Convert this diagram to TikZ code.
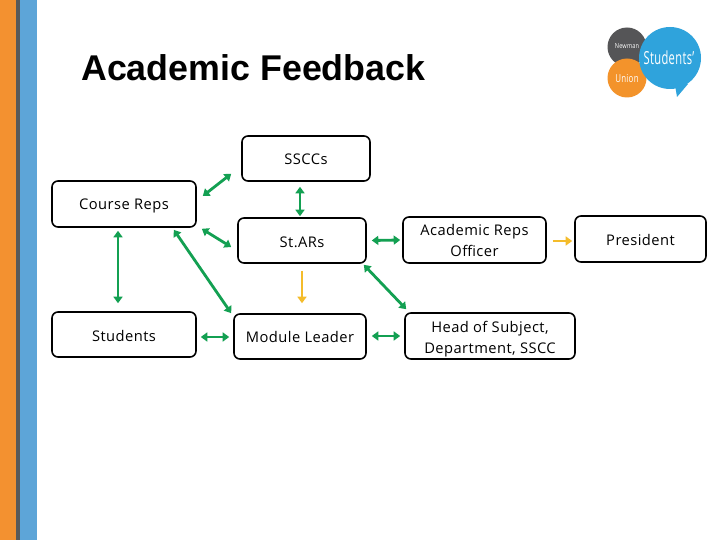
\documentclass[tikz,border=0pt]{standalone}
\usepackage{fontspec}
\setmainfont[LetterSpace=3]{Open Sans}
\newfontfamily\titlefont{Liberation Sans}
\usetikzlibrary{arrows.meta}
\definecolor{gr}{HTML}{13A052}
\definecolor{ye}{HTML}{F4BC2B}
\definecolor{orbar}{HTML}{F39130}
\definecolor{blbar}{HTML}{5DA5D8}
\definecolor{gybar}{HTML}{595959}
\definecolor{lgblue}{HTML}{2FA3DC}
\definecolor{lgor}{HTML}{F3932B}
\definecolor{lggr}{HTML}{555557}
\tikzset{
 box/.style={draw=black,line width=1.6pt,rounded corners=6pt,fill=white,align=center,font=\fontsize{14.7}{21}\selectfont,inner sep=0pt},
 twoway/.style={draw=gr,line width=2.8pt,{Triangle[length=6.5pt,width=9pt]}-{Triangle[length=6.5pt,width=9pt]}},
 oneway/.style={draw=ye,line width=2.8pt,-{Triangle[length=6.5pt,width=9pt]}},
 logotext/.style={text=white,inner sep=0pt}
}
\newcommand{\tl}[2]{\raisebox{-#1pt}[0pt][0pt]{#2}}
\begin{document}
\begin{tikzpicture}[x=1pt,y=-1pt]
\useasboundingbox (0,0) rectangle (720,540);
\fill[white] (0,0) rectangle (720,540);
\fill[orbar] (0,0) rectangle (16,540);
\fill[gybar] (16,0) rectangle (20,540);
\fill[blbar] (20,0) rectangle (37,540);
\node[anchor=base west,inner sep=0pt,font=\titlefont\bfseries\fontsize{35.8}{40}\selectfont] (title) at (81,80.5) {Academic Feedback};
% logo
\fill[lggr] (627,47) circle (19.5);
\fill[lgor] (627,78) circle (19.5);
\fill[lgblue] (670,58) circle (31);
\fill[lgblue] (675,85) -- (677,97) -- (688,84) -- cycle;
\node[logotext,font=\fontsize{7}{7}\selectfont,xscale=.8] (lg1) at (627,46) {Newman};
\node[logotext,font=\fontsize{18}{18}\selectfont,xscale=.62] (lg2) at (669,58) {Students'};
\node[logotext,font=\fontsize{11}{11}\selectfont,xscale=.72] (lg3) at (627,79) {Union};
% boxes
\node[box,minimum width=128pt,minimum height=45pt] (ssccs) at (306,158.5) {\tl{6}{SSCCs}};
\node[box,minimum width=144pt,minimum height=46pt] (creps) at (124,204) {\tl{6}{Course Reps}};
\node[box,minimum width=128pt,minimum height=45pt] (stars) at (302,240.5) {\tl{6.5}{St.ARs}};
\node[box,minimum width=144pt,minimum height=45pt] (stud) at (124,334.5) {\tl{6.5}{Students}};
\node[box,minimum width=132pt,minimum height=45pt] (ml) at (300,336.5) {\tl{5.5}{Module Leader}};
\node[box,minimum width=143pt,minimum height=46pt] (aro) at (474.5,240) {\tl{6.2}{Academic Reps}\\\tl{6.2}{Officer}};
\node[box,minimum width=131pt,minimum height=46pt] (pres) at (640.5,239) {\tl{6.5}{President}};
\node[box,minimum width=170pt,minimum height=46pt] (head) at (490,336) {\tl{6.8}{Head of Subject,}\\\tl{6.8}{Department, SSCC}};
% connectors (ends stop short of the boxes)
\draw[twoway] ([xshift=6pt,yshift=8pt]creps.east) -- ([xshift=-10pt,yshift=8pt]ssccs.south west);
\draw[twoway] ([xshift=-6pt,yshift=-5pt]ssccs.south) -- ([xshift=-2pt,yshift=1pt]stars.north);
\draw[twoway] ([xshift=5pt,yshift=-1pt]creps.south east) -- ([xshift=-6pt,yshift=-6.5pt]stars.west);
\draw[twoway] ([xshift=-6pt,yshift=-3pt]creps.south) -- ([xshift=-6pt,yshift=8pt]stud.north);
\draw[twoway] ([xshift=-23pt,yshift=-2pt]creps.south east) -- ([xshift=-2pt]ml.north west);
\draw[oneway] ([yshift=-7pt]stars.south) -- ([yshift=10pt,xshift=2pt]ml.north);
\draw[twoway] ([xshift=4pt,yshift=-2.5pt]stud.east) -- ([xshift=-4pt,yshift=-.5pt]ml.west);
\draw[twoway] ([xshift=5pt]stars.east) -- ([xshift=-2pt]aro.west);
\draw[twoway] ([xshift=5pt,yshift=.5pt]ml.east) -- ([xshift=-4pt]head.west);
\draw[twoway] ([xshift=-3pt,yshift=-1pt]stars.south east) -- ([xshift=2pt,yshift=3pt]head.north west);
\draw[oneway] ([xshift=6pt,yshift=-1pt]aro.east) -- ([xshift=-2pt,yshift=-2pt]pres.west);
\end{tikzpicture}
\end{document}
